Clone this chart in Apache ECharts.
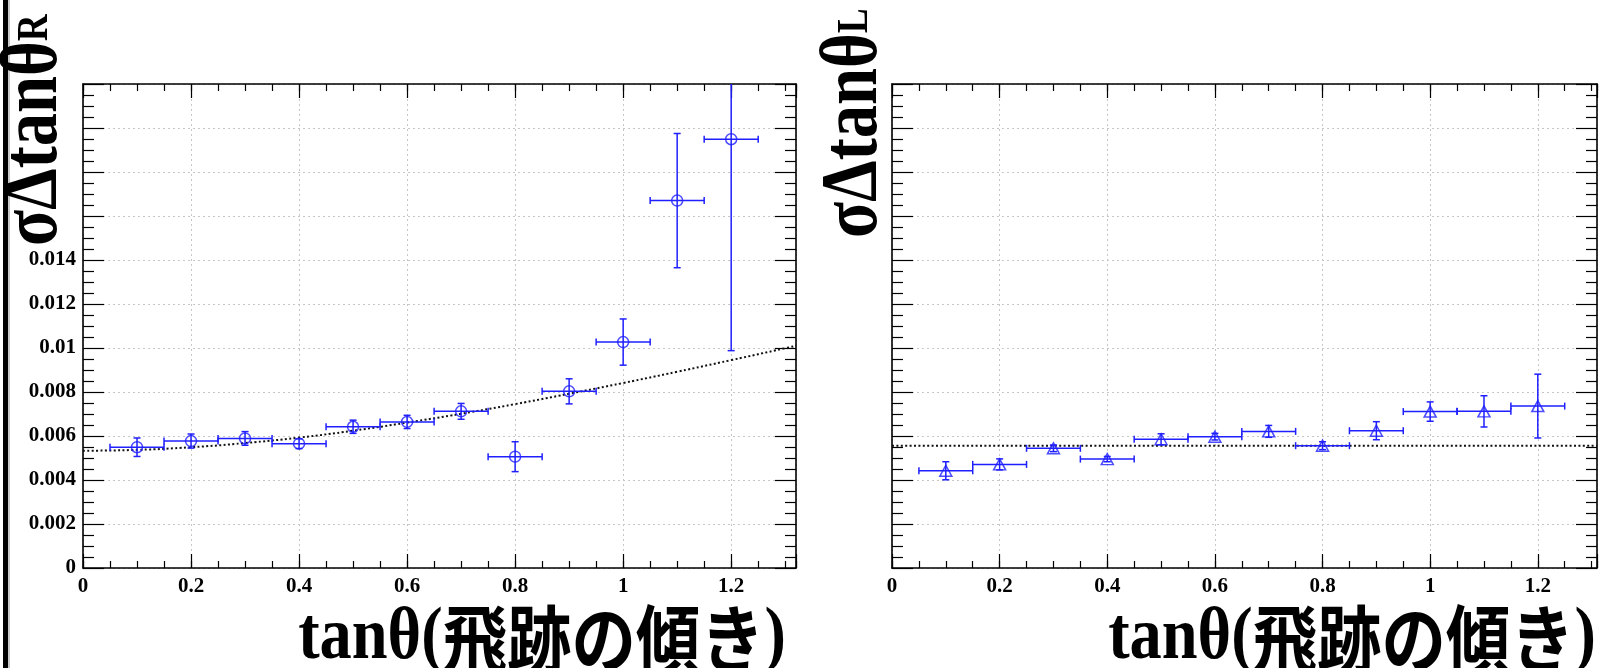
<!DOCTYPE html>
<html>
<head>
<meta charset="utf-8">
<script src="https://cdn.jsdelivr.net/npm/echarts@6/dist/echarts.min.js"></script>
<style>
  html, body { margin: 0; padding: 0; background: #fff; }
  #c { width: 1608px; height: 668px; }
</style>
</head>
<body>
<div id="c"></div>
<script>
// tanθ bin centres and half widths
const binCenters = [0.1, 0.2, 0.3, 0.4, 0.5, 0.6, 0.7, 0.8, 0.9, 1.0, 1.1, 1.2];
const binHalfWidth = [0.05, 0.05, 0.05, 0.05, 0.05, 0.05, 0.05, 0.05, 0.05, 0.05, 0.05, 0.05];

// σΔtanθ_R with its uncertainty
const sigmaR    = [0.00549, 0.00577, 0.00589, 0.00565, 0.00642, 0.00664, 0.00712, 0.00506, 0.00803, 0.01027, 0.01670, 0.01949];
const sigmaRErr = [0.00042, 0.00032, 0.00031, 0.00022, 0.00030, 0.00030, 0.00036, 0.00068, 0.00057, 0.00105, 0.00305, 0.00961];

// σΔtanθ_L with its uncertainty
const sigmaL    = [0.00442, 0.00471, 0.00544, 0.00495, 0.00585, 0.00597, 0.00621, 0.00556, 0.00624, 0.00711, 0.00712, 0.00736];
const sigmaLErr = [0.00041, 0.00025, 0.00015, 0.00012, 0.00025, 0.00015, 0.00027, 0.00018, 0.00041, 0.00044, 0.00071, 0.00145];

// fitted curve for the R side, sampled along tanθ
const fitRX = [0, 0.1, 0.2, 0.3, 0.4, 0.5, 0.6, 0.7, 0.8, 0.9, 1.0, 1.1, 1.2, 1.3, 1.32];
const fitRY = [0.00533, 0.00537, 0.00549, 0.00568, 0.00593, 0.00624, 0.00661, 0.00701, 0.00745, 0.00792, 0.00841, 0.00892, 0.00945, 0.00999, 0.0101];

// constant fit for the L side
const fitLX = [0, 1.31];
const fitLY = [0.00556, 0.00556];

// axis ranges
const xMaxR = 1.32, xMaxL = 1.31;
const yMax = 0.022, yStep = 0.002, xStep = 0.2, xMinorStep = 0.05;
const yLabelTop = 0.014;

const SERIF = '"Liberation Serif", "DejaVu Serif", serif';
const CJK = '"Noto Sans CJK JP", "Noto Sans CJK SC", sans-serif';
const BLUE = '#1f1fff';

const chart = echarts.init(document.getElementById('c'), null, { renderer: 'canvas' });

const gridStyle = { color: '#c6c6c6', type: [2, 3], width: 1 };
const frameStyle = { color: '#000', width: 1.6 };
const tickStyle = { color: '#000', width: 1.2 };

function fmtX(v) {
  const k = v / xStep;
  return Math.abs(k - Math.round(k)) < 1e-6 ? String(+v.toFixed(1)) : '';
}
function fmtY(v) {
  return v > yLabelTop + 1e-6 ? '' : String(+v.toFixed(3));
}

function xMajor(gi, max, pos, labels) {
  return {
    type: 'value', gridIndex: gi, position: pos, min: 0, max: max, interval: xStep,
    axisLine: { show: true, onZero: false, lineStyle: frameStyle },
    axisTick: { show: true, inside: true, length: 14, lineStyle: tickStyle },
    axisLabel: { show: labels, margin: 8, color: '#000', fontFamily: SERIF, fontWeight: 'bold', fontSize: 21, formatter: fmtX },
    splitLine: { show: labels, lineStyle: gridStyle }
  };
}
function xMinor(gi, max, pos) {
  return {
    type: 'value', gridIndex: gi, position: pos, min: 0, max: max, interval: xMinorStep,
    axisLine: { show: false, onZero: false },
    axisTick: { show: true, inside: true, length: 7, lineStyle: tickStyle },
    axisLabel: { show: false },
    splitLine: { show: false }
  };
}
function yAxis(gi, pos, labels, main) {
  return {
    type: 'value', gridIndex: gi, position: pos, min: 0, max: yMax, interval: yStep,
    axisLine: { show: true, onZero: false, lineStyle: frameStyle },
    axisTick: { show: true, inside: true, length: 21, lineStyle: tickStyle },
    minorTick: { show: true, splitNumber: 4, length: 11, lineStyle: tickStyle },
    axisLabel: { show: labels, margin: 7, color: '#000', fontFamily: SERIF, fontWeight: 'bold', fontSize: 21, formatter: fmtY },
    splitLine: { show: main, lineStyle: gridStyle }
  };
}

// error bars with end caps, clipped to the plotting frame
function errorBars(params, api) {
  const x = api.value(0), y = api.value(1), ex = api.value(2), ey = api.value(3);
  const cs = params.coordSys;
  const top = cs.y, bottom = cs.y + cs.height;
  const c = api.coord([x, y]);
  const l = api.coord([x - ex, y]);
  const r = api.coord([x + ex, y]);
  let t = api.coord([x, y + ey])[1];
  let b = api.coord([x, y - ey])[1];
  const tClip = t < top, bClip = b > bottom;
  t = Math.max(t, top); b = Math.min(b, bottom);
  const st = { stroke: BLUE, lineWidth: 1.5 };
  const cap = 3.5;
  const kids = [
    { type: 'line', shape: { x1: l[0], y1: c[1], x2: r[0], y2: c[1] }, style: st },
    { type: 'line', shape: { x1: c[0], y1: t, x2: c[0], y2: b }, style: st },
    { type: 'line', shape: { x1: l[0], y1: c[1] - cap, x2: l[0], y2: c[1] + cap }, style: st },
    { type: 'line', shape: { x1: r[0], y1: c[1] - cap, x2: r[0], y2: c[1] + cap }, style: st }
  ];
  if (!tClip) kids.push({ type: 'line', shape: { x1: c[0] - cap, y1: t, x2: c[0] + cap, y2: t }, style: st });
  if (!bClip) kids.push({ type: 'line', shape: { x1: c[0] - cap, y1: b, x2: c[0] + cap, y2: b }, style: st });
  return { type: 'group', children: kids };
}

const errR = binCenters.map((x, i) => [x, sigmaR[i], binHalfWidth[i], sigmaRErr[i]]);
const errL = binCenters.map((x, i) => [x, sigmaL[i], binHalfWidth[i], sigmaLErr[i]]);
const ptsR = binCenters.map((x, i) => [x, sigmaR[i]]);
const ptsL = binCenters.map((x, i) => [x, sigmaL[i]]);
const fitR = fitRX.map((x, i) => [x, fitRY[i]]);
const fitL = fitLX.map((x, i) => [x, fitLY[i]]);

const fitStyle = { color: '#111', width: 2, type: [2, 2.4] };

// rotated axis title: large condensed bold serif with a subscript
function yTitle(x, y, sub) {
  return {
    type: 'text', x: x, y: y, rotation: Math.PI / 2, scaleX: 0.83, scaleY: 1,
    style: {
      text: '{m|σΔtanθ}{s|' + sub + '}', align: 'left', verticalAlign: 'bottom',
      textAlign: 'left', textVerticalAlign: 'bottom',
      rich: {
        m: { fontFamily: SERIF, fontWeight: 'bold', fontSize: 80, fill: '#000' },
        s: { fontFamily: SERIF, fontWeight: 'bold', fontSize: 45, fill: '#000' }
      }
    }
  };
}
function xTitle(x, y) {
  return {
    type: 'text', x: x, y: y, scaleX: 0.87, scaleY: 1,
    style: {
      text: '{l|tanθ(}{c|飛跡の傾き}{l|)}', align: 'right', verticalAlign: 'bottom',
      textAlign: 'right', textVerticalAlign: 'bottom',
      rich: {
        l: { fontFamily: SERIF, fontWeight: 'bold', fontSize: 74, fill: '#000' },
        c: { fontFamily: CJK, fontWeight: 'bold', fontSize: 74, fill: '#000' }
      }
    }
  };
}

const option = {
  animation: false,
  backgroundColor: '#fff',
  grid: [
    { left: 83, top: 84, width: 713, height: 484 },
    { left: 892, top: 84, width: 705, height: 484 }
  ],
  xAxis: [
    xMajor(0, xMaxR, 'bottom', true), xMinor(0, xMaxR, 'bottom'),
    xMajor(0, xMaxR, 'top', false), xMinor(0, xMaxR, 'top'),
    xMajor(1, xMaxL, 'bottom', true), xMinor(1, xMaxL, 'bottom'),
    xMajor(1, xMaxL, 'top', false), xMinor(1, xMaxL, 'top')
  ],
  yAxis: [
    yAxis(0, 'left', true, true), yAxis(0, 'right', false, false),
    yAxis(1, 'left', false, true), yAxis(1, 'right', false, false)
  ],
  series: [
    { type: 'line', xAxisIndex: 0, yAxisIndex: 0, data: fitR, smooth: true, symbol: 'none',
      lineStyle: fitStyle, z: 3, silent: true },
    { type: 'custom', xAxisIndex: 0, yAxisIndex: 0, data: errR, renderItem: errorBars, z: 4 },
    { type: 'scatter', xAxisIndex: 0, yAxisIndex: 0, data: ptsR, symbol: 'circle', symbolSize: 11,
      itemStyle: { color: 'rgba(0,0,0,0)', borderColor: BLUE, borderWidth: 1.5 }, z: 5 },

    { type: 'line', xAxisIndex: 4, yAxisIndex: 2, data: fitL, symbol: 'none',
      lineStyle: fitStyle, z: 3, silent: true },
    { type: 'custom', xAxisIndex: 4, yAxisIndex: 2, data: errL, renderItem: errorBars, z: 4 },
    { type: 'scatter', xAxisIndex: 4, yAxisIndex: 2, data: ptsL, symbol: 'triangle', symbolSize: [12, 11],
      itemStyle: { color: 'rgba(0,0,0,0)', borderColor: BLUE, borderWidth: 1.5 }, z: 5 }
  ],
  graphic: [
    { type: 'rect', left: 3, top: 0, shape: { width: 5, height: 668 }, style: { fill: '#000' } },
    { type: 'rect', left: 8, top: 0, shape: { width: 2, height: 668 }, style: { fill: '#c8c8c8' } },
    yTitle(75, 246, 'R'),
    yTitle(895, 238, 'L'),
    xTitle(786, 676),
    xTitle(1596, 676)
  ]
};

chart.setOption(option);
</script>
</body>
</html>
